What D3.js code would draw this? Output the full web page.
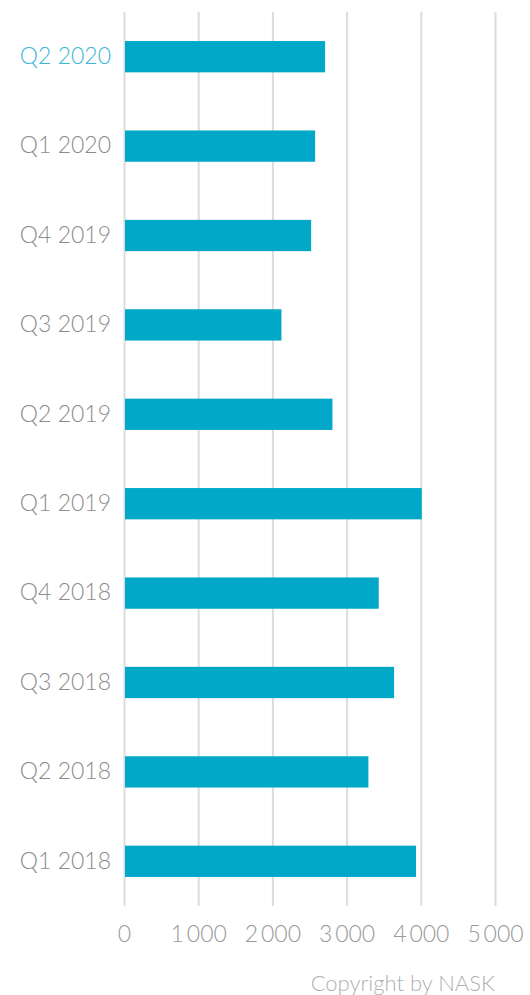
<!DOCTYPE html>
<html>
<head>
<meta charset="utf-8">
<script src="https://cdn.jsdelivr.net/npm/d3@7"></script>
<style>
  body { margin: 0; background: #fff; }
  text { font-family: Lato, "Open Sans", sans-serif; font-weight: 300; }
</style>
</head>
<body>
<div id="wrapper"></div>
<script>
const quarters = ["Q2 2020", "Q1 2020", "Q4 2019", "Q3 2019", "Q2 2019",
                  "Q1 2019", "Q4 2018", "Q3 2018", "Q2 2018", "Q1 2018"];
const counts = [2710, 2576, 2522, 2122, 2809, 4013, 3433, 3640, 3294, 3936];
const xTicks = [0, 1000, 2000, 3000, 4000, 5000];
const highlighted = "Q2 2020";

function buildPlot() {
    const data = quarters.map((q, i) => ({ quarter: q, value: counts[i] }));
    const xAccessor = d => d.value;
    const yAccessor = d => d.quarter;

    const dimension = {
        width: 530,
        height: 995,
        margin: { top: 12, left: 124, bottom: 89, right: 35 }
    };
    dimension.boundedWidth = dimension.width - dimension.margin.left - dimension.margin.right;
    dimension.boundedHeight = dimension.height - dimension.margin.top - dimension.margin.bottom;

    const svg = d3.select("#wrapper").append("svg")
        .attr("width", dimension.width)
        .attr("height", dimension.height);

    const bounded = svg.append("g")
        .attr("transform", `translate(${dimension.margin.left},${dimension.margin.top})`);

    const xScaler = d3.scaleLinear()
        .domain([0, 5000])
        .range([0, 371]);

    const yScaler = d3.scaleBand()
        .domain(quarters)
        .range([0, dimension.boundedHeight])
        .paddingInner(0.65)
        .paddingOuter(0.325);

    // siatka pionowa
    bounded.append("g")
        .selectAll("line")
        .data(xTicks)
        .join("line")
        .attr("x1", d => xScaler(d) + 0.5)
        .attr("x2", d => xScaler(d) + 0.5)
        .attr("y1", 0)
        .attr("y2", dimension.boundedHeight)
        .attr("stroke", "#dcdcdc")
        .attr("stroke-width", 2);

    bounded.append("g")
        .selectAll("rect")
        .data(data)
        .join("rect")
        .attr("x", 1)
        .attr("y", d => yScaler(yAccessor(d)))
        .attr("width", d => xScaler(xAccessor(d)) - 1)
        .attr("height", yScaler.bandwidth())
        .attr("fill", "#02a8c8");

    const xAxis = d3.axisBottom(xScaler)
        .tickValues(xTicks)
        .tickSize(0)
        .tickPadding(20)
        .tickFormat(d => d3.format(",")(d).replace(",", "\u2009"));

    const xg = bounded.append("g")
        .attr("transform", `translate(0,${dimension.boundedHeight})`)
        .call(xAxis);
    xg.select(".domain").remove();
    xg.selectAll("text")
        .attr("fill", "#999")
        .style("font-size", "23px")
        .style("font-family", "Lato, sans-serif");

    const yAxis = d3.axisLeft(yScaler)
        .tickSize(0)
        .tickPadding(13);

    const yg = bounded.append("g").call(yAxis);
    yg.select(".domain").remove();
    yg.selectAll("text")
        .attr("fill", d => d === highlighted ? "#3cb6d6" : "#8c8c8c")
        .style("font-size", "23px")
        .style("font-family", "Lato, sans-serif");

    svg.append("text")
        .attr("x", 495)
        .attr("y", 991)
        .attr("text-anchor", "end")
        .attr("fill", "#b0b0b0")
        .style("font-size", "22px")
        .text("Copyright by NASK");
}

buildPlot();
</script>
</body>
</html>
